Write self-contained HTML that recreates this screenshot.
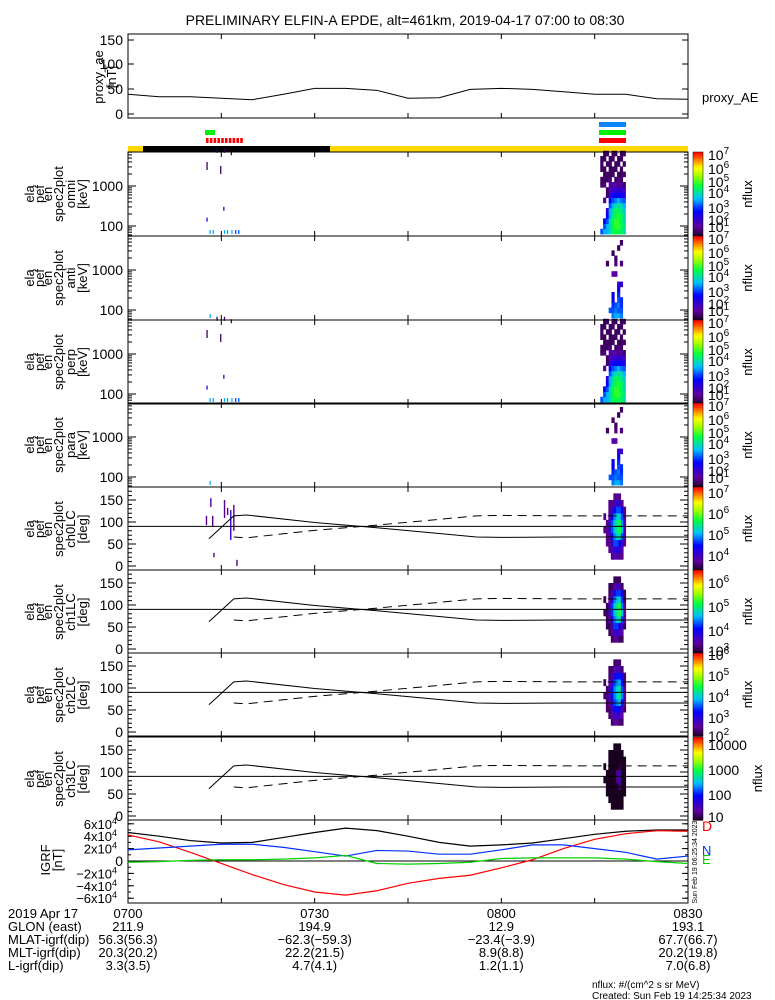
<!DOCTYPE html>
<html><head><meta charset="utf-8"><style>
body{margin:0;background:#fff;}
svg{display:block;font-family:"Liberation Sans",sans-serif;}
</style></head><body>
<svg id="chart" width="775" height="1000" viewBox="0 0 775 1000" xmlns="http://www.w3.org/2000/svg">
<rect width="775" height="1000" fill="#fff"/>
<text x="405" y="25" font-size="14" text-anchor="middle">PRELIMINARY ELFIN-A EPDE, alt=461km, 2019-04-17 07:00 to 08:30</text>
<g id="g"></g>
</svg>
<script>
// ---------- data ----------
const aeTimes=[0,5,10,15,20,25,30,35,40,45,50,55,60,65,70,75,80,85,90];
const aeValues=[40,35,35,32,29,40,52,52,48,32,33,50,52,50,45,40,40,31,30];
const igrfTimes=[0,5,10,15,20,25,30,35,40,45,50,55,60,65,70,75,80,85,90];
const igrfTotal=[4.6,4.0,3.3,2.9,3.0,3.8,4.6,5.3,4.9,4.0,3.0,2.4,2.6,2.9,3.6,4.3,4.8,5.0,5.0];
const igrfD=[4.2,3.1,1.4,-0.4,-2.2,-3.8,-5.0,-5.5,-4.8,-3.6,-2.8,-2.3,-1.1,0.2,2.0,3.5,4.4,4.9,4.8];
const igrfN=[1.8,2.1,2.4,2.7,2.7,2.2,1.5,0.8,1.7,1.6,1.1,1.1,1.8,2.6,2.6,2.0,1.4,0.3,0.8];
const igrfE=[-0.2,-0.1,0.1,0.2,0.2,0.3,0.5,0.9,-0.4,-0.5,-0.4,-0.2,0.4,0.5,0.5,0.5,0.3,-0.1,-0.4];
const lcTimes=[13,17,19,30,40,50,56,60,70,80,90];
const lcValues=[62,114,116,99,87,74,66,65,66,66,66];
const enTimes=[75.9,76.35,76.8,77.25,77.7,78.15,78.6,79.05,79.5];
const enBinsLog=[1.80,1.93,2.06,2.19,2.32,2.45,2.58,2.71,2.84,2.97,3.10,3.23,3.36,3.49,3.62,3.75];
const enFull=[
[3,3.5,3.5,4,4.5,4.5,4.5,4.5,4],
[0,3,3.5,4,4.5,4.8,4.8,4.5,4.2],
[0,2.5,3,4,4.5,4.8,4.8,4.5,4],
[0,0,2.5,3.5,4.2,4.5,4.8,4.5,4],
[0,0,2,3.5,4,4.5,4.5,4.2,3.8],
[0,0,0,3,3.5,4,4.2,4,3.5],
[0,1.5,0,2.5,3,3.2,3.5,3.2,3],
[0,0,1,2,2.5,2.5,2.5,2.5,2.2],
[0,0,1,1.5,2,2,2,2,1.8],
[1,1.2,0,1.5,1.5,1.5,1.2,1.5,1],
[1,1,1,1.2,0,1,1.2,1,0],
[0,1,1,1,1,0,1,1,1],
[1,1,0,1,1,1,0,1,0],
[1,0,1,1,0,1,1,0,1],
[1,1,0,1,1,0,1,1,0],
[0,1,1,0,1,1,0,1,1]];
const enSparse=[
[0,0,0,0,3.2,3.5,3.5,3.2,0],
[0,0,0,3,3,3.2,3,3,0],
[0,0,0,0,2.8,3,3.2,2.8,0],
[0,0,0,0,2.5,0,3,2.8,0],
[0,0,0,0,2.5,0,2.8,0,0],
[0,0,0,0,0,0,2.5,0,0],
[0,0,0,0,0,0,2,2,0],
[0,0,0,0,0,0,0,0,0],
[0,0,0,0,1.5,1.5,0,0,0],
[0,0,0,0,0,0,0,0,0],
[0,0,1,0,0,1.2,0,1.2,0],
[0,0,0,0,0,1,0,0,0],
[0,0,0,0,1,0,0,0,0],
[0,0,0,0,0,0,1,0,0],
[0,0,0,0,0,0,0,1,0],
[0,0,0,0,0,0,0,0,0]];
const earlyT=[12.6,14.8,15.4,14.2,16.5,15.3,12.6,13.1,13.6,15.4,15.9,16.6,17.2,17.7];
const earlyLogE=[3.45,3.35,3.78,3.78,3.72,2.42,2.15,1.84,1.84,1.84,1.84,1.84,1.84,1.84];
const earlyV=[1,1,1,1,1,2,2,3.5,3.5,3.5,3.5,3.6,3,3];
const earlyPaT=[13.2,13.5,12.5,13.7,15.4,15.9,16.4,16.9,17.4];
const earlyPaLo=[134,89,93,20,109,116,59,80,0];
const earlyPaHi=[154,114,114,30,150,132,127,139,14];
const earlyPaV=[4.0,3.8,3.8,3.8,3.8,3.8,4.2,3.8,3.8];
const paTimes=[76.4,76.8,77.2,77.6,78.0,78.4,78.8,79.2,79.6];
const paBins=[15,30,45,60,75,90,105,120,135,150];
const paFlux=[
[0,0,0,3.8,4,4,3.8,3.8,0],
[0,0,3.8,4,4.3,4.3,4.2,4,0],
[0,3.8,3.8,4.2,4.8,4.8,4.5,4.2,3.8],
[0,3.8,4,4.5,5,5.2,5.5,4.8,4],
[3.8,3.8,4.2,4.8,5.2,5.5,5.8,5.2,4],
[0,3.8,4.2,4.8,5.2,5.5,5.8,5,4],
[3.8,0,4,4.5,5,5.2,5.3,4.8,3.8],
[0,0,3.8,4.2,4.5,4.8,4.8,4.5,3.8],
[0,0,3.8,3.8,4,4.2,4.2,3.8,0],
[0,0,0,0,3.8,3.8,3.8,0,0]];
const tickTimes=[15,30,45,60,75];
const bottomLabels=["0700","0730","0800","0830"];
const bottomTimes=[0,30,60,90];
const glon=["211.9","194.9","12.9","193.1"];
const mlat=["56.3(56.3)","-62.3(-59.3)","-23.4(-3.9)","67.7(66.7)"];
const mlt=["20.3(20.2)","22.2(21.5)","8.9(8.8)","20.2(19.8)"];
const lval=["3.3(3.5)","4.7(4.1)","1.2(1.1)","7.0(6.8)"];

// ---------- helpers ----------
const NS="http://www.w3.org/2000/svg";
const G=document.getElementById('g');
const X0=128,X1=688;
function tx(t){return X0+t*(X1-X0)/90;}
function mk(tag,attrs,parent){const e=document.createElementNS(NS,tag);for(const k in attrs)e.setAttribute(k,attrs[k]);(parent||G).appendChild(e);return e;}
function txt(s,x,y,size,anchor,fill,parent){const e=mk('text',{x:x,y:y,'font-size':size,'text-anchor':anchor||'start',fill:fill||'#000'},parent);e.textContent=s;return e;}
const stops=[[0,[26,0,32]],[0.12,[96,0,160]],[0.3,[0,0,255]],[0.45,[0,192,255]],[0.6,[0,255,64]],[0.72,[160,255,0]],[0.82,[255,255,0]],[0.9,[255,144,0]],[1,[255,0,0]]];
function cmap(f){f=Math.max(0,Math.min(1,f));for(let i=1;i<stops.length;i++){if(f<=stops[i][0]){const a=stops[i-1],b=stops[i];const u=(f-a[0])/(b[0]-a[0]);const c=a[1].map((v,j)=>Math.round(v+(b[1][j]-v)*u));return 'rgb('+c.join(',')+')';}}return 'rgb(255,0,0)';}
function xticks(top,bot,parent){tickTimes.forEach(t=>{mk('line',{x1:tx(t),x2:tx(t),y1:top,y2:top+5,stroke:'#000'},parent);mk('line',{x1:tx(t),x2:tx(t),y1:bot,y2:bot-5,stroke:'#000'},parent);});}
function ylabel(lines,xs,yc,parent){lines.forEach((s,i)=>{const e=txt(s,0,0,13,'middle','#000',parent);e.setAttribute('transform','translate('+xs[i]+','+yc+') rotate(-90)');});}
function colorbar(top,bot,labels,parent){
  const n=40,h=(bot-top)/n;
  for(let i=0;i<n;i++){mk('rect',{x:693,y:bot-(i+1)*h,width:10,height:h+0.6,fill:cmap((i+0.5)/n)},parent);}
  mk('rect',{x:693,y:top,width:10,height:bot-top,fill:'none',stroke:'#000','stroke-width':0.5},parent);
  labels.forEach(l=>{const t=txt(l[0],708,l[1]+5,14,'start','#000',parent);if(l[2]){const s=mk('tspan',{dy:-6,'font-size':10},t);s.textContent=l[2];}});
  const big=labels.some(l=>l[0]==='10000');
  const nf=txt('nflux',0,0,13,'middle','#000',parent);nf.setAttribute('transform','translate('+(big?762:752)+','+((top+bot)/2)+') rotate(-90)');
}

// ---------- proxy AE ----------
const gae=mk('g',{});
mk('rect',{x:X0,y:34,width:X1-X0,height:84,fill:'none',stroke:'#000'},gae);
xticks(34,118,gae);
[[0,114],[50,89],[100,64],[150,40]].forEach(v=>{txt(String(v[0]),123,v[1]+5,14,'end','#000',gae);mk('line',{x1:X0,x2:X0+6,y1:v[1],y2:v[1],stroke:'#000'},gae);mk('line',{x1:X1,x2:X1-6,y1:v[1],y2:v[1],stroke:'#000'},gae);});
ylabel(['proxy_ae','[nT]'],[103,116],77,gae);
const aeY=v=>114-v*(114-40)/150;
const aeLine=mk('polyline',{points:aeTimes.map((t,i)=>tx(t)+','+aeY(aeValues[i])).join(' '),fill:'none',stroke:'#000'},gae);


txt('proxy_AE',702,102,13,'start','#000',gae);

// ---------- status bars ----------
const gb=mk('g',{});
mk('rect',{x:205,y:130,width:10,height:5,fill:'#00ee00'},gb);
for(let i=0;i<10;i++)mk('rect',{x:206+i*3.8,y:138,width:2.6,height:5,fill:'#ff0000'},gb);
mk('rect',{x:599,y:122,width:27,height:5,fill:'#0a84ff'},gb);
mk('rect',{x:599,y:130,width:27,height:5,fill:'#00ee00'},gb);
mk('rect',{x:599,y:138,width:27,height:5,fill:'#ff0000'},gb);
mk('rect',{x:X0,y:146,width:X1-X0,height:6,fill:'#ffd700'},gb);
mk('rect',{x:143,y:146,width:187,height:6,fill:'#000'},gb);

// ---------- energy panels ----------
const enPanels=[['omni',152,enFull,true],['anti',236,enSparse,false],['perp',320,enFull,true],['para',403,enSparse,false]];
const cbLabels14=[[7,3],[6,17],[5,30],[4,41],[3,56],[2,68],[1,75]];
const lblX=[34,44,52,63,75,87];
enPanels.forEach((p,pi)=>{
  const top=p[1],bot=top+84;
  const g=mk('g',{});
  
  
  const ey=le=>top+(3.85-le)*40;
  const vf=v=>(v-0.6)/6.6;
  const dt=enTimes[1]-enTimes[0];
  p[2].forEach((row,bi)=>{row.forEach((v,ci)=>{if(v>0){const c=mk('rect',{x:tx(enTimes[ci]),y:ey(enBinsLog[bi]+0.13),width:tx(dt)-X0+0.4,height:5.6,fill:cmap(vf(v))},g);}});});
  earlyT.forEach((t,i)=>{if(p[3]||i===7){const c=mk('rect',{x:tx(t),y:ey(earlyLogE[i]+(i<5?0.15:0.06)),width:1.3,height:i<5?(i<2?8:4):4,fill:cmap(vf(earlyV[i]))},g);}});
  mk('rect',{x:X0,y:top,width:X1-X0,height:84,fill:'none',stroke:'#000'},g);
  xticks(top,bot,g);
  [2,3].forEach(d=>{txt(String(Math.pow(10,d)),123,ey(d)+5,14,'end','#000',g);});
  for(let d=1;d<=3;d++)for(let m=1;m<=9;m++){const le=d+Math.log10(m);const y=ey(le);if(y<top||y>bot)continue;const L=m===1?8:4;mk('line',{x1:X0,x2:X0+L,y1:y,y2:y,stroke:'#000'},g);mk('line',{x1:X1,x2:X1-L,y1:y,y2:y,stroke:'#000'},g);}
  ylabel(['ela','pef','en','spec2plot',p[0],'[keV]'],lblX,top+42,g);
  colorbar(top,bot,cbLabels14.map(l=>['10',top+l[1],String(l[0])]),g);
});

// ---------- pitch-angle panels ----------
const paPanels=[['ch0LC',487,3.4,7.3,[['10',493,'7'],['10',514,'6'],['10',535,'5'],['10',556,'4']]],
['ch1LC',570,3.0,6.5,[['10',583,'6'],['10',607,'5'],['10',631,'4'],['10',651,'3']]],
['ch2LC',653,1.9,6.1,[['10',655,'6'],['10',676,'5'],['10',697,'4'],['10',718,'3'],['10',736,'2']]],
['ch3LC',737,0.9,4.3,[['10000',745],['1000',770],['100',795],['10',817]]]];
const paShift=[0,-0.6,-1.6,-4.3];
paPanels.forEach((p,pi)=>{
  const top=p[1],bot=pi===3?820:top+83;
  const g=mk('g',{});
  
  
  const py=d=>top+79-d*0.44;
  const shift=paShift[pi];
  const dt=paTimes[1]-paTimes[0];
  const cf=lv=>cmap((lv-p[2])/(p[3]-p[2]));
  paFlux.forEach((row,bi)=>{row.forEach((v,ci)=>{if(v>0){const c=mk('rect',{x:tx(paTimes[ci]),y:py(paBins[bi]+15),width:tx(dt)-X0+0.3,height:15*0.44+0.3,fill:cf(v+shift)},g);}});});
  if(pi===0){earlyPaT.forEach((t,i)=>{const c=mk('rect',{x:tx(t),y:py(earlyPaHi[i]),width:1.4,height:(earlyPaHi[i]-earlyPaLo[i])*0.44,fill:cf(earlyPaV[i])},g);});}
  mk('rect',{x:X0,y:top,width:X1-X0,height:bot-top,fill:'none',stroke:'#000'},g);
  xticks(top,bot,g);
  [0,50,100,150].forEach(d=>txt(String(d),123,py(d)+5,14,'end','#000',g));
  for(let d=0;d<=180;d+=10){const y=py(d);if(y<top)continue;const L=d%50===0?8:4;mk('line',{x1:X0,x2:X0+L,y1:y,y2:y,stroke:'#000'},g);mk('line',{x1:X1,x2:X1-L,y1:y,y2:y,stroke:'#000'},g);}
  mk('line',{x1:X0,x2:X1,y1:py(90),y2:py(90),stroke:'#000'},g);
  const lc=mk('polyline',{points:lcTimes.map((t,i)=>tx(t)+','+py(lcValues[i])).join(' '),fill:'none',stroke:'#000'},g);
  
  
  const alc=mk('polyline',{points:lcTimes.slice(1).map((t,i)=>tx(t)+','+py(180-lcValues[i+1])).join(' '),fill:'none',stroke:'#000','stroke-dasharray':'9,6'},g);
  
  
  ylabel(['ela','pef','en','spec2plot',p[0],'[deg]'],lblX,top+42,g);
  colorbar(top,bot,p[4],g);
});

// ---------- IGRF ----------
const gi=mk('g',{});
const iy=v=>861-v*6.2;
mk('rect',{x:X0,y:820,width:X1-X0,height:83,fill:'none',stroke:'#000'},gi);
xticks(820,903,gi);
mk('line',{x1:X0,x2:X1,y1:861,y2:861,stroke:'#000'},gi);
[6,4,2,0,-2,-4,-6].forEach(v=>{const y=iy(v);if(v===0){txt('0',123,y+5,14,'end','#000',gi);}else{const t=txt((v<0?'\u2212':'')+Math.abs(v)+'x10',117,y+5,13,'end','#000',gi);const s=mk('tspan',{dy:-5,'font-size':9},t);s.textContent='4';}
 mk('line',{x1:X0,x2:X0+6,y1:y,y2:y,stroke:'#000'},gi);mk('line',{x1:X1,x2:X1-6,y1:y,y2:y,stroke:'#000'},gi);});
for(let v=-6;v<=6;v+=1){const y=iy(v);mk('line',{x1:X0,x2:X0+3,y1:y,y2:y,stroke:'#000'},gi);mk('line',{x1:X1,x2:X1-3,y1:y,y2:y,stroke:'#000'},gi);}
ylabel(['IGRF','[nT]'],[50,62],860,gi);
[['igrf-total',igrfTotal,'#000'],['igrf-d',igrfD,'#ff0000'],['igrf-n',igrfN,'#0030ff'],['igrf-e',igrfE,'#00d000']].forEach(s=>{
  const l=mk('polyline',{points:igrfTimes.map((t,i)=>tx(t)+','+iy(s[1][i])).join(' '),fill:'none',stroke:s[2],'stroke-width':1.2},gi);
  
  
});
txt('D',702,831,14,'start','#ff0000',gi);
txt('N',702,855,13,'start','#0030ff',gi);
txt('E',702,864,13,'start','#00d000',gi);
const stamp=txt('Sun Feb 19 06:25:34 2023',0,0,7,'middle','#000',gi);
stamp.setAttribute('transform','translate(697,862) rotate(-90)');

// ---------- bottom annotation ----------
const gt=mk('g',{});
const rows=[['2019 Apr 17',bottomLabels,918],['GLON (east)',glon,931],['MLAT-igrf(dip)',mlat,944],['MLT-igrf(dip)',mlt,957],['L-igrf(dip)',lval,970]];
rows.forEach(r=>{txt(r[0],8,r[2],13,'start','#000',gt);r[1].forEach((s,i)=>txt(s.replace(/-/g,'\u2212'),tx(bottomTimes[i]),r[2],13,'middle','#000',gt));});
txt('nflux: #/(cm^2 s sr MeV)',592,988,10,'start','#000',gt);
txt('Created: Sun Feb 19 14:25:34 2023',592,999,10,'start','#000',gt);
</script>
</body></html>
